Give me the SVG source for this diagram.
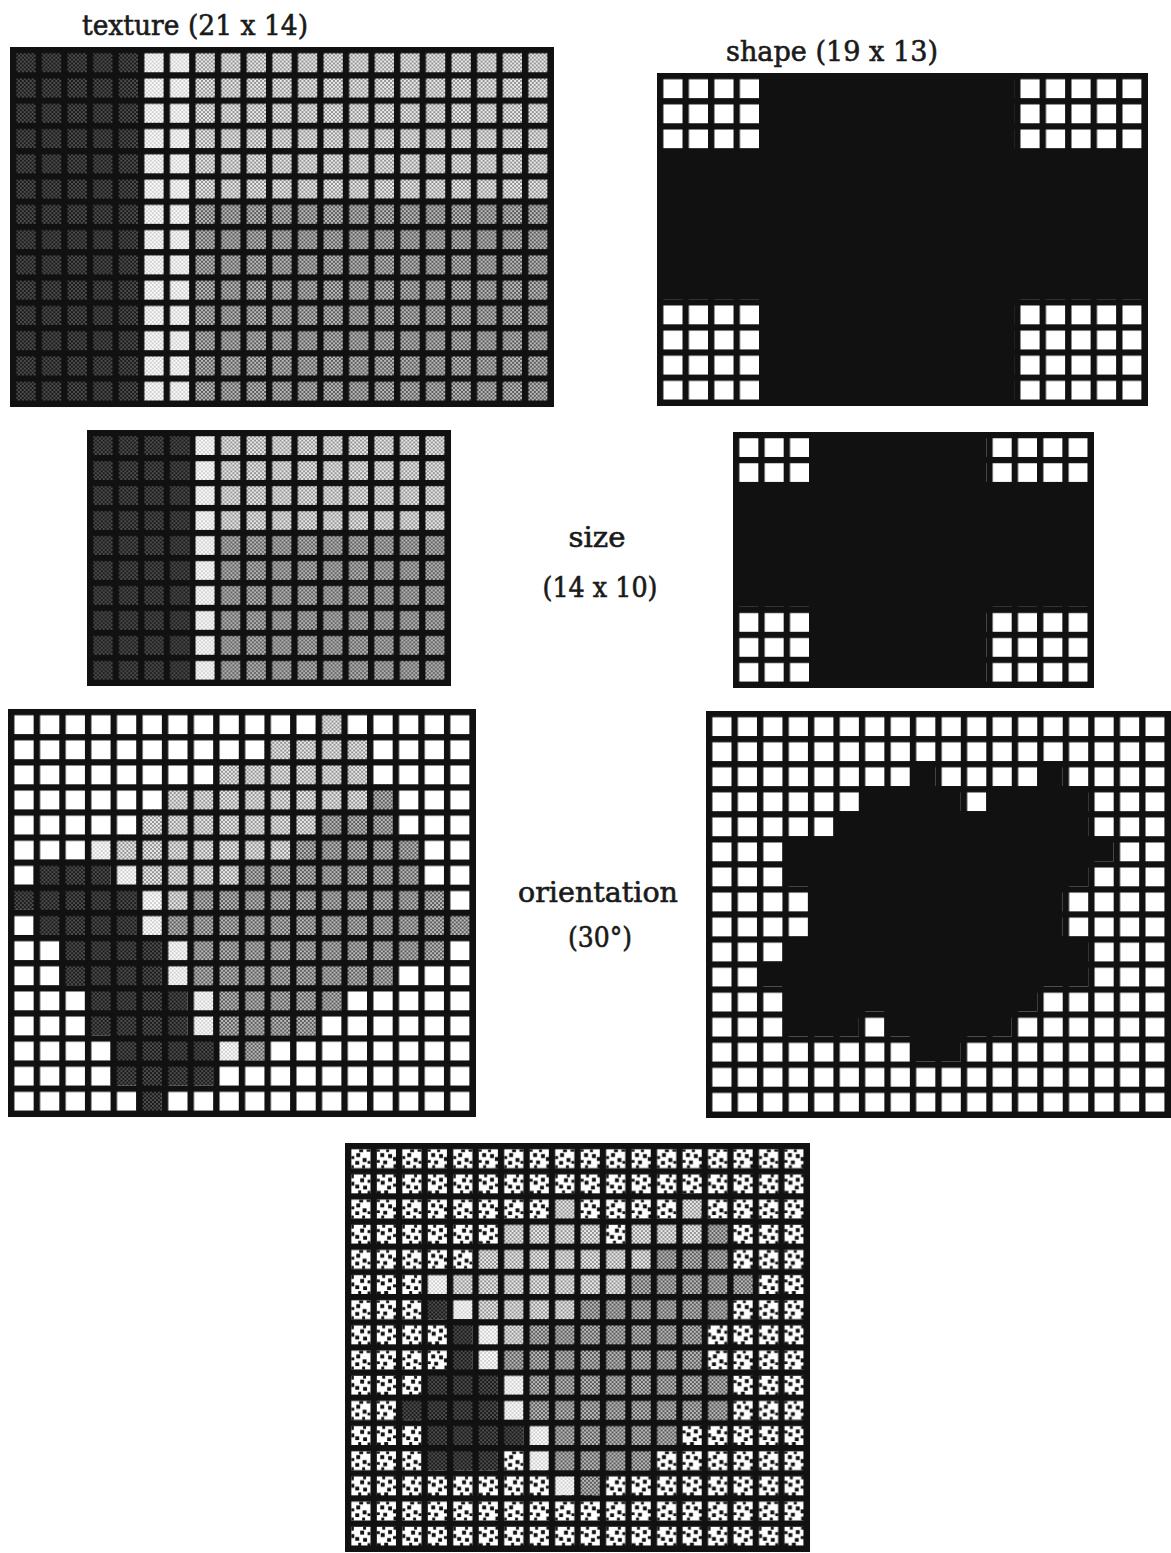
<svg xmlns="http://www.w3.org/2000/svg" xmlns:xlink="http://www.w3.org/1999/xlink" width="1171" height="1553" viewBox="0 0 1171 1553">
<style>
.lbl{font-family:"DejaVu Serif","Liberation Serif",serif;font-size:27px;fill:#1a1a1a;stroke:#1a1a1a;stroke-width:0.6px;text-anchor:middle}
.frame{fill:#111}
.W{fill:url(#gW)}.A{fill:url(#gA)}.B{fill:url(#gB)}.C{fill:url(#gC)}.D{fill:url(#gD)}.E{fill:url(#gE)}
</style>
<defs>
<pattern id="cA" patternUnits="userSpaceOnUse" width="4" height="4"><rect width="4" height="4" fill="#1a1a1a"/><rect width="2" height="2" fill="#4e4e4e"/><rect x="2" y="2" width="2" height="2" fill="#4e4e4e"/></pattern>
<pattern id="cB" patternUnits="userSpaceOnUse" width="4" height="4"><rect width="4" height="4" fill="#fdfdfd"/><rect width="2" height="2" fill="#cfcfcf"/><rect x="2" y="2" width="2" height="2" fill="#cfcfcf"/></pattern>
<pattern id="cC" patternUnits="userSpaceOnUse" width="4" height="4"><rect width="4" height="4" fill="#ececec"/><rect width="2" height="2" fill="#929292"/><rect x="2" y="2" width="2" height="2" fill="#929292"/></pattern>
<pattern id="cD" patternUnits="userSpaceOnUse" width="4" height="4"><rect width="4" height="4" fill="#bcbcbc"/><rect width="2" height="2" fill="#5a5a5a"/><rect x="2" y="2" width="2" height="2" fill="#5a5a5a"/></pattern>
<pattern id="gW" patternUnits="userSpaceOnUse" x="0" y="0" width="26" height="26"><rect x="6.5" y="6.5" width="19.5" height="19.5" fill="#fff"/></pattern>
<pattern id="gA" patternUnits="userSpaceOnUse" x="0" y="0" width="26" height="26"><rect x="6.5" y="6.5" width="19.5" height="19.5" fill="url(#cA)"/></pattern>
<pattern id="gB" patternUnits="userSpaceOnUse" x="0" y="0" width="26" height="26"><rect x="6.5" y="6.5" width="19.5" height="19.5" fill="url(#cB)"/></pattern>
<pattern id="gC" patternUnits="userSpaceOnUse" x="0" y="0" width="26" height="26"><rect x="6.5" y="6.5" width="19.5" height="19.5" fill="url(#cC)"/></pattern>
<pattern id="gD" patternUnits="userSpaceOnUse" x="0" y="0" width="26" height="26"><rect x="6.5" y="6.5" width="19.5" height="19.5" fill="url(#cD)"/></pattern>
<g id="blob">
<rect width="19.5" height="19.5" fill="#fff"/>
<path fill="#111" d="M5 4h4v4h-4z M11.5 9h4v4h-4z M4 12h4v4h-4z M8 0h4v3h-4z M0 7h3v3h-3z M16.5 12h3v3h-3z M11 16.5h3v3h-3z M15.5 0h4v2.5h-4z M0 16.5h2.5v3h-2.5z"/>
</g>
<pattern id="gE" patternUnits="userSpaceOnUse" x="0" y="0" width="52" height="52">
<use xlink:href="#blob" transform="translate(6.5,6.5)"/>
<use xlink:href="#blob" transform="translate(32.5,6.5) rotate(90 9.75 9.75)"/>
<use xlink:href="#blob" transform="translate(6.5,32.5) rotate(270 9.75 9.75)"/>
<use xlink:href="#blob" transform="translate(32.5,32.5) rotate(180 9.75 9.75)"/>
</pattern>
</defs>
<rect width="1171" height="1553" fill="#fff"/>

<g id="labels">
<text class="lbl" x="195" y="35" textLength="226" lengthAdjust="spacingAndGlyphs">texture (21 x 14)</text>
<text class="lbl" x="832" y="61" textLength="212" lengthAdjust="spacingAndGlyphs">shape (19 x 13)</text>
<text class="lbl" x="597" y="547" textLength="57" lengthAdjust="spacingAndGlyphs">size</text>
<text class="lbl" x="600" y="597" textLength="115" lengthAdjust="spacingAndGlyphs">(14 x 10)</text>
<text class="lbl" x="598" y="902" textLength="160" lengthAdjust="spacingAndGlyphs">orientation</text>
<text class="lbl" x="600" y="947" textLength="64" lengthAdjust="spacingAndGlyphs">(30°)</text>
</g>

<g id="texture-grid" transform="translate(10,47) scale(0.9846,0.9717)">
<rect class="frame" width="552.5" height="370.5"/>
<rect class="A" x="0" y="0" width="130" height="364"/>
<rect class="B" x="130" y="0" width="52" height="364"/>
<rect class="C" x="182" y="0" width="364" height="156"/>
<rect class="D" x="182" y="156" width="364" height="208"/>
</g>

<g id="shape-grid" transform="translate(657,73) scale(0.981,0.9666)">
<rect class="frame" width="500.5" height="344.5"/>
<rect class="W" x="0" y="0" width="104" height="78"/>
<rect class="W" x="364" y="0" width="130" height="78"/>
<rect class="W" x="0" y="234" width="104" height="104"/>
<rect class="W" x="364" y="234" width="130" height="104"/>
</g>

<g id="size-texture-grid" transform="translate(87,430) scale(0.9825,0.9606)">
<rect class="frame" width="370.5" height="266.5"/>
<rect class="A" x="0" y="0" width="104" height="260"/>
<rect class="B" x="104" y="0" width="26" height="260"/>
<rect class="C" x="130" y="0" width="234" height="104"/>
<rect class="D" x="130" y="104" width="234" height="156"/>
</g>

<g id="size-shape-grid" transform="translate(733,432) scale(0.9744,0.9606)">
<rect class="frame" width="370.5" height="266.5"/>
<rect class="W" x="0" y="0" width="78" height="52"/>
<rect class="W" x="260" y="0" width="104" height="52"/>
<rect class="W" x="0" y="182" width="78" height="78"/>
<rect class="W" x="260" y="182" width="104" height="78"/>
</g>

<g id="orientation-texture-grid" transform="translate(8,709) scale(0.9863,0.9657)">
<rect class="frame" width="474.5" height="422.5"/>
<rect class="W" x="0" y="0" width="312" height="26"/><rect class="C" x="312" y="0" width="26" height="26"/><rect class="W" x="338" y="0" width="130" height="26"/>
<rect class="W" x="0" y="26" width="260" height="26"/><rect class="C" x="260" y="26" width="104" height="26"/><rect class="W" x="364" y="26" width="104" height="26"/>
<rect class="W" x="0" y="52" width="208" height="26"/><rect class="C" x="208" y="52" width="156" height="26"/><rect class="W" x="364" y="52" width="104" height="26"/>
<rect class="W" x="0" y="78" width="156" height="26"/><rect class="C" x="156" y="78" width="208" height="26"/><rect class="D" x="364" y="78" width="26" height="26"/><rect class="W" x="390" y="78" width="78" height="26"/>
<rect class="W" x="0" y="104" width="130" height="26"/><rect class="C" x="130" y="104" width="182" height="26"/><rect class="D" x="312" y="104" width="78" height="26"/><rect class="W" x="390" y="104" width="78" height="26"/>
<rect class="W" x="0" y="130" width="78" height="26"/><rect class="B" x="78" y="130" width="26" height="26"/><rect class="C" x="104" y="130" width="182" height="26"/><rect class="D" x="286" y="130" width="130" height="26"/><rect class="W" x="416" y="130" width="52" height="26"/>
<rect class="W" x="0" y="156" width="26" height="26"/><rect class="A" x="26" y="156" width="78" height="26"/><rect class="B" x="104" y="156" width="26" height="26"/><rect class="C" x="130" y="156" width="104" height="26"/><rect class="D" x="234" y="156" width="182" height="26"/><rect class="W" x="416" y="156" width="52" height="26"/>
<rect class="A" x="0" y="182" width="130" height="26"/><rect class="B" x="130" y="182" width="26" height="26"/><rect class="C" x="156" y="182" width="26" height="26"/><rect class="D" x="182" y="182" width="260" height="26"/><rect class="W" x="442" y="182" width="26" height="26"/>
<rect class="W" x="0" y="208" width="26" height="26"/><rect class="A" x="26" y="208" width="104" height="26"/><rect class="B" x="130" y="208" width="26" height="26"/><rect class="D" x="156" y="208" width="312" height="26"/>
<rect class="W" x="0" y="234" width="52" height="26"/><rect class="A" x="52" y="234" width="104" height="26"/><rect class="B" x="156" y="234" width="26" height="26"/><rect class="D" x="182" y="234" width="260" height="26"/><rect class="W" x="442" y="234" width="26" height="26"/>
<rect class="W" x="0" y="260" width="52" height="26"/><rect class="A" x="52" y="260" width="104" height="26"/><rect class="B" x="156" y="260" width="26" height="26"/><rect class="D" x="182" y="260" width="208" height="26"/><rect class="W" x="390" y="260" width="78" height="26"/>
<rect class="W" x="0" y="286" width="78" height="26"/><rect class="A" x="78" y="286" width="104" height="26"/><rect class="B" x="182" y="286" width="26" height="26"/><rect class="D" x="208" y="286" width="130" height="26"/><rect class="W" x="338" y="286" width="130" height="26"/>
<rect class="W" x="0" y="312" width="78" height="26"/><rect class="A" x="78" y="312" width="104" height="26"/><rect class="B" x="182" y="312" width="26" height="26"/><rect class="D" x="208" y="312" width="104" height="26"/><rect class="W" x="312" y="312" width="156" height="26"/>
<rect class="W" x="0" y="338" width="104" height="26"/><rect class="A" x="104" y="338" width="104" height="26"/><rect class="B" x="208" y="338" width="26" height="26"/><rect class="D" x="234" y="338" width="26" height="26"/><rect class="W" x="260" y="338" width="208" height="26"/>
<rect class="W" x="0" y="364" width="104" height="26"/><rect class="A" x="104" y="364" width="104" height="26"/><rect class="W" x="208" y="364" width="260" height="26"/>
<rect class="W" x="0" y="390" width="130" height="26"/><rect class="A" x="130" y="390" width="26" height="26"/><rect class="W" x="156" y="390" width="312" height="26"/>
</g>

<g id="orientation-shape-grid" transform="translate(706,711) scale(0.98,0.9633)">
<rect class="frame" width="474.5" height="422.5"/>
<rect class="W" x="0" y="0" width="468" height="52"/>
<rect class="W" x="0" y="52" width="208" height="26"/><rect class="W" x="234" y="52" width="104" height="26"/><rect class="W" x="364" y="52" width="104" height="26"/>
<rect class="W" x="0" y="78" width="156" height="26"/><rect class="W" x="260" y="78" width="26" height="26"/><rect class="W" x="390" y="78" width="78" height="26"/>
<rect class="W" x="0" y="104" width="130" height="26"/><rect class="W" x="390" y="104" width="78" height="26"/>
<rect class="W" x="0" y="130" width="78" height="26"/><rect class="W" x="416" y="130" width="52" height="26"/>
<rect class="W" x="0" y="156" width="78" height="26"/><rect class="W" x="390" y="156" width="78" height="26"/>
<rect class="W" x="0" y="182" width="104" height="52"/><rect class="W" x="364" y="182" width="104" height="52"/>
<rect class="W" x="0" y="234" width="78" height="26"/><rect class="W" x="390" y="234" width="78" height="26"/>
<rect class="W" x="0" y="260" width="52" height="26"/><rect class="W" x="390" y="260" width="78" height="26"/>
<rect class="W" x="0" y="286" width="78" height="26"/><rect class="W" x="338" y="286" width="130" height="26"/>
<rect class="W" x="0" y="312" width="78" height="26"/><rect class="W" x="156" y="312" width="26" height="26"/><rect class="W" x="312" y="312" width="156" height="26"/>
<rect class="W" x="0" y="338" width="208" height="26"/><rect class="W" x="260" y="338" width="208" height="26"/>
<rect class="W" x="0" y="364" width="468" height="52"/>
</g>

<g id="combined-grid" transform="translate(345,1143) scale(0.98,0.968)">
<rect class="frame" width="474.5" height="422.5"/>
<rect class="E" x="0" y="0" width="468" height="52"/>
<rect class="E" x="0" y="52" width="208" height="26"/><rect class="C" x="208" y="52" width="26" height="26"/><rect class="E" x="234" y="52" width="104" height="26"/><rect class="C" x="338" y="52" width="26" height="26"/><rect class="E" x="364" y="52" width="104" height="26"/>
<rect class="E" x="0" y="78" width="156" height="26"/><rect class="C" x="156" y="78" width="104" height="26"/><rect class="E" x="260" y="78" width="26" height="26"/><rect class="C" x="286" y="78" width="78" height="26"/><rect class="D" x="364" y="78" width="26" height="26"/><rect class="E" x="390" y="78" width="78" height="26"/>
<rect class="E" x="0" y="104" width="130" height="26"/><rect class="C" x="130" y="104" width="182" height="26"/><rect class="D" x="312" y="104" width="78" height="26"/><rect class="E" x="390" y="104" width="78" height="26"/>
<rect class="E" x="0" y="130" width="78" height="26"/><rect class="B" x="78" y="130" width="26" height="26"/><rect class="C" x="104" y="130" width="182" height="26"/><rect class="D" x="286" y="130" width="130" height="26"/><rect class="E" x="416" y="130" width="52" height="26"/>
<rect class="E" x="0" y="156" width="78" height="26"/><rect class="A" x="78" y="156" width="26" height="26"/><rect class="B" x="104" y="156" width="26" height="26"/><rect class="C" x="130" y="156" width="104" height="26"/><rect class="D" x="234" y="156" width="156" height="26"/><rect class="E" x="390" y="156" width="78" height="26"/>
<rect class="E" x="0" y="182" width="104" height="26"/><rect class="A" x="104" y="182" width="26" height="26"/><rect class="B" x="130" y="182" width="26" height="26"/><rect class="C" x="156" y="182" width="26" height="26"/><rect class="D" x="182" y="182" width="182" height="26"/><rect class="E" x="364" y="182" width="104" height="26"/>
<rect class="E" x="0" y="208" width="104" height="26"/><rect class="A" x="104" y="208" width="26" height="26"/><rect class="B" x="130" y="208" width="26" height="26"/><rect class="D" x="156" y="208" width="208" height="26"/><rect class="E" x="364" y="208" width="104" height="26"/>
<rect class="E" x="0" y="234" width="78" height="26"/><rect class="A" x="78" y="234" width="78" height="26"/><rect class="B" x="156" y="234" width="26" height="26"/><rect class="D" x="182" y="234" width="208" height="26"/><rect class="E" x="390" y="234" width="78" height="26"/>
<rect class="E" x="0" y="260" width="52" height="26"/><rect class="A" x="52" y="260" width="104" height="26"/><rect class="B" x="156" y="260" width="26" height="26"/><rect class="D" x="182" y="260" width="208" height="26"/><rect class="E" x="390" y="260" width="78" height="26"/>
<rect class="E" x="0" y="286" width="78" height="26"/><rect class="A" x="78" y="286" width="104" height="26"/><rect class="B" x="182" y="286" width="26" height="26"/><rect class="D" x="208" y="286" width="130" height="26"/><rect class="E" x="338" y="286" width="130" height="26"/>
<rect class="E" x="0" y="312" width="78" height="26"/><rect class="A" x="78" y="312" width="78" height="26"/><rect class="E" x="156" y="312" width="26" height="26"/><rect class="B" x="182" y="312" width="26" height="26"/><rect class="D" x="208" y="312" width="104" height="26"/><rect class="E" x="312" y="312" width="156" height="26"/>
<rect class="E" x="0" y="338" width="208" height="26"/><rect class="B" x="208" y="338" width="26" height="26"/><rect class="D" x="234" y="338" width="26" height="26"/><rect class="E" x="260" y="338" width="208" height="26"/>
<rect class="E" x="0" y="364" width="468" height="52"/>
</g>
</svg>
